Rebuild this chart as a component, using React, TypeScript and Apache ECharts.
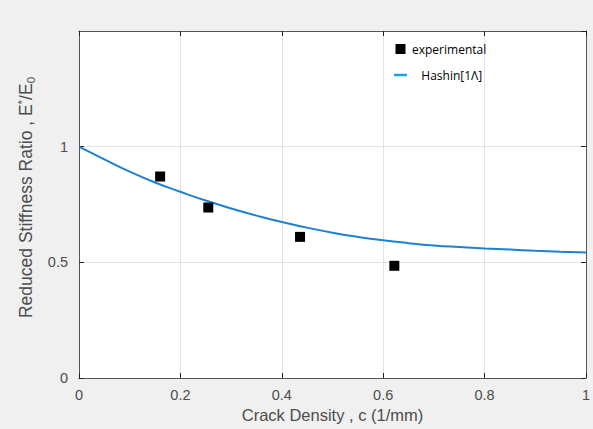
import React, { useEffect, useRef } from "react";
import * as echarts from "echarts";

const xTicks = [0, 0.2, 0.4, 0.6, 0.8, 1];
const expC = [0.16, 0.255, 0.436, 0.622];
const expE = [0.871, 0.737, 0.61, 0.485];
const hashinC = [0, 0.05, 0.1, 0.15, 0.2, 0.25, 0.3, 0.35, 0.4, 0.45, 0.5, 0.55, 0.6, 0.65, 0.7, 0.75, 0.8, 0.85, 0.9, 0.95, 1.0];
const hashinE = [1.0, 0.945, 0.892, 0.845, 0.805, 0.767, 0.733, 0.702, 0.674, 0.65, 0.628, 0.61, 0.595, 0.583, 0.573, 0.566, 0.56, 0.555, 0.55, 0.546, 0.543];

const axisColor = "#555555";
const labelColor = "#4d4d4d";
const font = "'Liberation Sans', Arial, sans-serif";

export default function App() {
  const ref = useRef<HTMLDivElement>(null);
  useEffect(() => {
    if (!ref.current) return;
    const chart = echarts.init(ref.current, null, { renderer: "svg" });
    const baseX = {
      type: "value" as const,
      min: 0,
      max: 1,
      interval: 0.2,
    };
    const baseY = {
      type: "value" as const,
      min: 0,
      max: 1.5,
      interval: 0.5,
    };
    chart.setOption({
      animation: false,
      backgroundColor: "#f0f0f0",
      grid: {
        left: 79,
        right: 7,
        top: 31,
        bottom: 51,
        show: true,
        backgroundColor: "#ffffff",
        borderWidth: 0,
      },
      legend: {
        orient: "vertical",
        left: 389,
        top: 38,
        itemWidth: 13,
        itemHeight: 10,
        itemGap: 14,
        textStyle: { fontFamily: "'Open Sans', 'Noto Sans', sans-serif", fontSize: 12, color: "#000" },
        data: [
          { name: "experimental", icon: "path://M0,0h10v10h-10z", itemStyle: { color: "#000", opacity: 1 } },
          { name: "Hashin[1Λ]", icon: "path://M0,0h18v3.4h-18z", itemStyle: { color: "#10a5e6", opacity: 1 } },
        ],
        formatter: (n: string) => (n === "experimental" ? n : "   " + n),
      },
      xAxis: [
        {
          ...baseX,
          position: "bottom",
          name: "Crack Density , c (1/mm)",
          nameLocation: "middle",
          nameGap: 25,
          nameTextStyle: { fontFamily: font, fontSize: 16.5, color: labelColor },
          axisLine: { show: true, lineStyle: { color: axisColor, width: 1 } },
          axisTick: { show: true, inside: true, length: 5, lineStyle: { color: "#222" } },
          axisLabel: {
            fontFamily: font,
            fontSize: 14.5,
            color: labelColor,
            margin: 9,
            formatter: (v: number) => (xTicks.includes(Math.round(v * 10) / 10) ? String(Math.round(v * 10) / 10) : ""),
          },
          splitLine: { show: true, lineStyle: { color: "#e3e3e3", width: 1 } },
        },
        {
          ...baseX,
          position: "top",
          axisLine: { show: true, onZero: false, lineStyle: { color: axisColor, width: 1 } },
          axisTick: { show: true, inside: true, length: 5, lineStyle: { color: "#222" } },
          axisLabel: { show: false },
          splitLine: { show: false },
        },
      ],
      yAxis: [
        {
          ...baseY,
          position: "left",
          name: "{a|Reduced Stiffness Ratio , E}{s|*}{a|/E}{b|0}",
          nameLocation: "middle",
          nameGap: 38,
          nameTextStyle: {
            fontFamily: font,
            fontSize: 17.5,
            color: labelColor,
            padding: [0, 0, 0, 14],
            rich: {
              a: { fontFamily: font, fontSize: 17.5, color: labelColor },
              s: { fontFamily: font, fontSize: 11.5, color: labelColor, verticalAlign: "top", padding: [0, 0, 9, 0] },
              b: { fontFamily: font, fontSize: 11.5, color: labelColor, padding: [9, 0, 0, 0] },
            },
          },
          axisLine: { show: true, lineStyle: { color: axisColor, width: 1 } },
          axisTick: { show: true, inside: true, length: 5, lineStyle: { color: "#222" } },
          axisLabel: {
            fontFamily: font,
            fontSize: 14.5,
            color: labelColor,
            margin: 11,
            showMaxLabel: false,
            formatter: (v: number) => (v >= 1.5 ? "" : String(v)),
          },
          splitLine: { show: true, lineStyle: { color: "#e3e3e3", width: 1 } },
        },
        {
          ...baseY,
          position: "right",
          axisLine: { show: true, onZero: false, lineStyle: { color: axisColor, width: 1 } },
          axisTick: { show: true, inside: true, length: 5, lineStyle: { color: "#222" } },
          axisLabel: { show: false },
          splitLine: { show: false },
        },
      ],
      series: [
        {
          name: "experimental",
          type: "scatter",
          symbol: "rect",
          symbolSize: 10,
          itemStyle: { color: "#000", opacity: 1 },
          data: expC.map((c, i) => [c, expE[i]]),
          z: 3,
        },
        {
          name: "Hashin[1Λ]",
          type: "line",
          showSymbol: false,
          smooth: true,
          lineStyle: { color: "#1f80d0", width: 2 },
          data: hashinC.map((c, i) => [c, hashinE[i]]),
          z: 2,
        },
      ],
    });
    return () => chart.dispose();
  }, []);
  return <div ref={ref} style={{ width: 593, height: 429, position: "fixed", left: 0, top: 0 }} />;
}
